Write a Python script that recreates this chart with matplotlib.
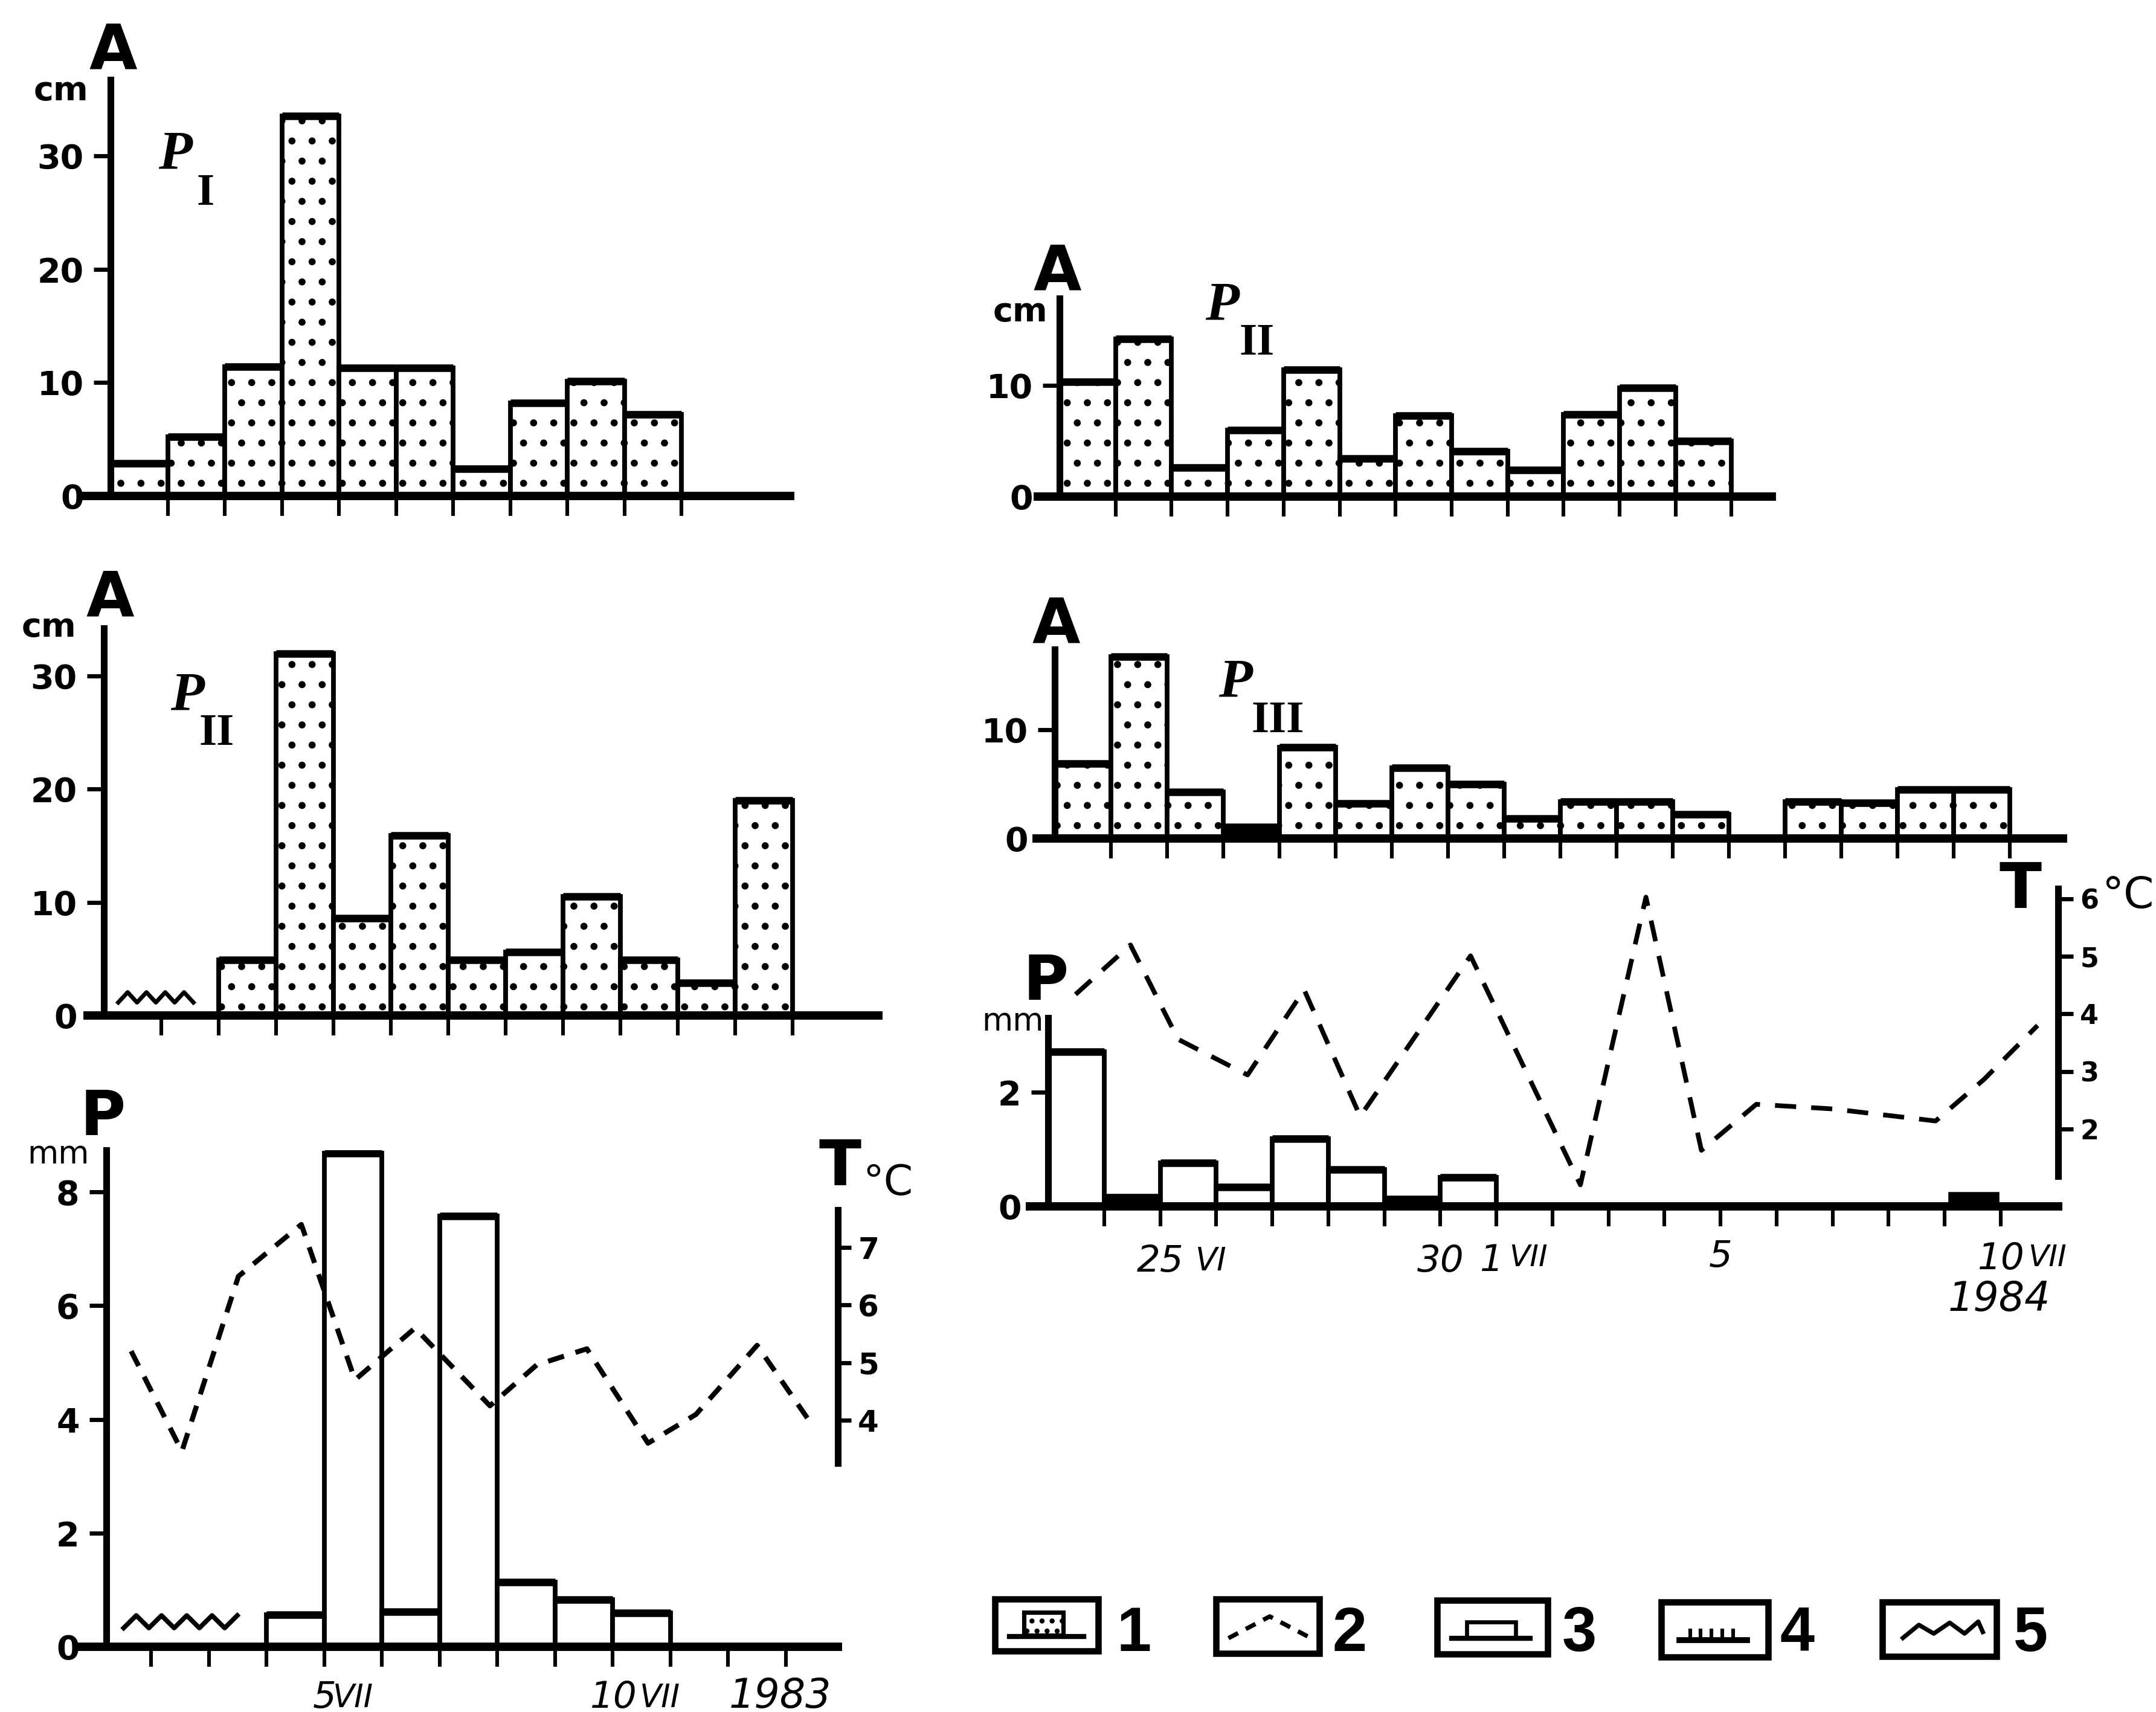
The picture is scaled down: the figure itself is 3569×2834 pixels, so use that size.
import matplotlib
matplotlib.use("Agg")
import matplotlib.pyplot as plt
from matplotlib.patches import Rectangle
import numpy as np

W, H, DPI = 3569, 2834, 200
plt.rcParams['font.family'] = ['DejaVu Sans']
plt.rcParams['hatch.linewidth'] = 1.8

# ---------------- data ----------------
# A, P_I (1983), snow cover per day slot
a_p1_slots = [0, 1, 2, 3, 4, 5, 6, 7, 8, 9]
a_p1 = [2.9, 5.2, 11.4, 33.5, 11.3, 11.3, 2.4, 8.2, 10.1, 7.2]

# A, P_II (1983)
a_p2_83_slots = [2, 3, 4, 5, 6, 7, 8, 9, 10, 11]
a_p2_83 = [4.9, 32.0, 8.6, 15.9, 4.9, 5.6, 10.5, 4.9, 2.9, 19.0]
a_p2_83_sym5 = (0.25, 1.56, 1.6)          # start, end, level of symbol 5

# P, T (1983), x = day of July
p83_days = [4, 5, 6, 7, 8, 9, 10]
p83 = [0.56, 8.68, 0.62, 7.58, 1.14, 0.83, 0.59]
p83_sym5 = (1.52, 3.49, 0.44)
t83_days = [1.65, 2.53, 3.51, 4.60, 5.53, 6.57, 7.87, 8.68, 9.55, 10.61, 11.44, 12.50, 13.48]
t83 = [5.20, 3.46, 6.50, 7.40, 4.70, 5.60, 4.25, 4.96, 5.24, 3.60, 4.10, 5.30, 3.88]
x83_ticks = [2, 3, 4, 5, 6, 7, 8, 9, 10, 11, 12, 13]

# A, P_II (1984), slot 0 = 23 VI
a_p2_84_slots = list(range(12))
a_p2_84 = [10.3, 14.2, 2.6, 6.0, 11.4, 3.4, 7.3, 4.1, 2.4, 7.4, 9.8, 5.0]

# A, P_III (1984)
a_p3_84_slots = [0, 1, 2, 3, 4, 5, 6, 7, 8, 9, 10, 11, 13, 14, 15, 16]
a_p3_84 = [6.9, 16.7, 4.3, 1.2, 8.4, 3.2, 6.5, 5.0, 1.85, 3.4, 3.4, 2.2, 3.4, 3.3, 4.5, 4.5]
a_p3_84_kind = [1, 1, 1, 4, 1, 1, 1, 1, 1, 1, 1, 1, 1, 1, 1, 1]

# P, T (1984), slot 0 = 23 VI
p84_slots = [0, 1, 2, 3, 4, 5, 6, 7, 16.1]
p84 = [2.71, 0.19, 0.76, 0.34, 1.18, 0.65, 0.16, 0.51, 0.22]
p84_width = [1, 1, 1, 1, 1, 1, 1, 1, 0.85]
p84_kind = [3, 4, 3, 3, 3, 3, 4, 3, 4]
t84_slots = [0.49, 1.47, 2.32, 3.56, 4.57, 5.57, 7.54, 9.50, 10.67, 11.66, 12.64, 14.00, 15.84, 16.70, 17.66]
t84 = [4.34, 5.20, 3.56, 2.94, 4.42, 2.22, 5.01, 1.03, 6.03, 1.63, 2.43, 2.35, 2.14, 2.86, 3.80]
x84_ticks = list(range(1, 18))

legend_numbers = ['1', '2', '3', '4', '5']

# ---------------- helpers ----------------
fig = plt.figure(figsize=(W / DPI, H / DPI), dpi=DPI)
fig.patch.set_facecolor('white')


def panel_ax(x0, xu, xlim, y0, yu, ylim):
    l = (x0 + xlim[0] * xu) / W
    w = (xlim[1] - xlim[0]) * xu / W
    b = 1 - (y0 - ylim[0] * yu) / H
    h = (ylim[1] - ylim[0]) * yu / H
    ax = fig.add_axes([l, b, w, h])
    ax.set_xlim(*xlim)
    ax.set_ylim(*ylim)
    ax.patch.set_visible(False)
    ax.spines['top'].set_visible(False)
    ax.spines['right'].set_visible(False)
    return ax


def style(ax, yaxis_x, ytop, yticks, xticks):
    ax.spines['left'].set_position(('data', yaxis_x))
    ax.spines['left'].set_bounds(0, ytop)
    ax.spines['left'].set_linewidth(4.0)
    ax.spines['bottom'].set_linewidth(5.0)
    ax.set_xticks(xticks)
    ax.set_xticklabels([])
    ax.tick_params(axis='x', length=12, width=2.2, direction='out')
    ax.set_yticks(yticks)
    ax.set_yticklabels([str(v) for v in yticks])
    ax.tick_params(axis='y', length=10, width=2.5, direction='out', labelsize=20, pad=6)
    for t in ax.get_yticklabels():
        t.set_fontweight('bold')


def stipple_bars(ax, xs, vals, kinds=None, widths=None):
    if widths is None:
        widths = [1] * len(xs)
    if kinds is None:
        kinds = [1] * len(xs)
    for x, v, k, w in zip(xs, vals, kinds, widths):
        if k == 1:
            ax.bar(x, v, width=w, align='edge', facecolor='white', edgecolor='black',
                   linewidth=2.8, hatch='.', zorder=2)
            ax.hlines(v, x, x + w, color='black', lw=4.5, zorder=3)
        elif k == 3:
            ax.bar(x, v, width=w, align='edge', facecolor='white', edgecolor='black',
                   linewidth=2.8, zorder=2)
            ax.hlines(v, x, x + w, color='black', lw=4.5, zorder=3)
        else:
            ax.bar(x, v, width=w, align='edge', facecolor='black', edgecolor='black',
                   linewidth=2.0, zorder=2)


def zigzag(ax, x0, x1, level, amp, n, lw=2.8):
    xs = np.linspace(x0, x1, n)
    ys = [level + (amp if i % 2 else -amp) for i in range(n)]
    ax.plot(xs, ys, color='black', lw=lw, solid_joinstyle='round', zorder=4)


def temp_axis(ax, tlo, thi, blo, bhi, ticks, length, labelsize):
    ax2 = ax.twinx()
    ax2.set_ylim(tlo, thi)
    for s in ['left', 'top', 'bottom']:
        ax2.spines[s].set_visible(False)
    ax2.spines['right'].set_bounds(blo, bhi)
    ax2.spines['right'].set_linewidth(4.0)
    ax2.set_yticks(ticks)
    ax2.set_yticklabels([str(v) for v in ticks])
    ax2.tick_params(axis='y', direction='out', length=length, width=2.5,
                    labelsize=labelsize, pad=4)
    for t in ax2.get_yticklabels():
        t.set_fontweight('bold')
    return ax2


def date_label(ax, d, s, dx, dy, size, ha='center'):
    ax.annotate(s, xy=(d, 0), xycoords='data', xytext=(dx, dy), textcoords='offset points',
                ha=ha, va='baseline', fontsize=size, style='italic', annotation_clip=False)


# ---------------- panel 1: A, P_I ----------------
ax1 = panel_ax(183, 94.5, (-0.48, 11.9), 821, 18.77, (0, 36.7))
style(ax1, 0, 36.7, [0, 10, 20, 30], list(range(1, 11)))
stipple_bars(ax1, a_p1_slots, a_p1)

# ---------------- panel 2: A, P_II 1983 ----------------
ax2 = panel_ax(172, 95.0, (-0.28, 13.5), 1681, 18.73, (0, 34.2))
style(ax2, 0, 34.2, [0, 10, 20, 30], list(range(1, 13)))
stipple_bars(ax2, a_p2_83_slots, a_p2_83)
zigzag(ax2, a_p2_83_sym5[0], a_p2_83_sym5[1], a_p2_83_sym5[2], 0.45, 9, lw=2.5)

# ---------------- panel 3: P, T 1983 ----------------
ax3 = panel_ax(59.5, 95.5, (0.77, 13.9), 2726, 94.1, (0, 8.74))
style(ax3, 1.22, 8.74, [0, 2, 4, 6, 8], x83_ticks)
stipple_bars(ax3, [d for d in p83_days], p83, kinds=[3] * len(p83))
zigzag(ax3, p83_sym5[0], p83_sym5[1], p83_sym5[2], 0.11, 10, lw=2.8)
ax3t = temp_axis(ax3, 0.064, 8.695, 3.25, 7.65, [4, 5, 6, 7], 8, 18)
ax3t.plot(t83_days, t83, color='black', lw=3.0, dashes=(3.3, 2.4), zorder=5)
date_label(ax3, 5, '5', 0, -36.4, 22)
date_label(ax3, 5, 'VII', 5, -36.0, 19, ha='left')
date_label(ax3, 10, '10', 0, -36.4, 22)
date_label(ax3, 10, 'VII', 16, -36.0, 19, ha='left')

# ---------------- panel 4: A, P_II 1984 ----------------
ax4 = panel_ax(1754, 92.7, (-0.39, 12.72), 822, 18.4, (0, 17.8))
style(ax4, 0, 17.8, [0, 10], list(range(1, 13)))
stipple_bars(ax4, a_p2_84_slots, a_p2_84)

# ---------------- panel 5: A, P_III 1984 ----------------
ax5 = panel_ax(1746, 93.0, (-0.32, 17.95), 1388, 18.0, (0, 17.4))
style(ax5, 0, 17.4, [0, 10], list(range(1, 18)))
stipple_bars(ax5, a_p3_84_slots, a_p3_84, kinds=a_p3_84_kind)

# ---------------- panel 6: P, T 1984 ----------------
ax6 = panel_ax(1735, 92.75, (-0.32, 18.03), 1997, 94.5, (0, 5.6))
style(ax6, 0, 3.3, [0, 2], x84_ticks)
stipple_bars(ax6, p84_slots, p84, kinds=p84_kind, widths=p84_width)
ax6t = temp_axis(ax6, 0.656, 6.212, 1.18, 6.18, [2, 3, 4, 5, 6], 9, 16)
ax6t.plot(t84_slots, t84, color='black', lw=2.8, dashes=(4.5, 3.2), zorder=5)
date_label(ax6, 2, '25', 0, -38.9, 22)
date_label(ax6, 2, 'VI', 21, -38.0, 19, ha='left')
date_label(ax6, 7, '30', 0, -38.9, 22)
date_label(ax6, 8, '1', -3, -38.5, 22)
date_label(ax6, 8, 'VII', 7.6, -35.5, 18, ha='left')
date_label(ax6, 12, '5', 0, -36.0, 22)
date_label(ax6, 17, '10', 0, -37.5, 22)
date_label(ax6, 17, 'VII', 16.5, -35.5, 18, ha='left')

# ---------------- overlay for labels and legend ----------------
ov = fig.add_axes([0, 0, 1, 1])
ov.set_xlim(0, W)
ov.set_ylim(H, 0)
ov.axis('off')
ov.patch.set_visible(False)


def txt(x, y, s, size, ha='center', weight='normal', family=None, style='normal'):
    kw = dict(ha=ha, va='baseline', fontsize=size, fontweight=weight, style=style)
    if family:
        kw['family'] = family
    ov.text(x, y, s, **kw)


BIG = 37
for (x, y, s) in [(187, 114, 'A'), (182, 1020, 'A'), (1750, 480, 'A'), (1748, 1065, 'A'),
                  (170, 1879, 'P'), (1731, 1655, 'P'), (1390, 1962, 'T'), (3345, 1503, 'T')]:
    txt(x, y, s, BIG, weight='heavy')

for (x, y, s) in [(101, 166, 'cm'), (81, 1054, 'cm'), (1689, 532, 'cm')]:
    txt(x, y, s, 20, weight='bold')
for (x, y, s) in [(96, 1926, 'mm'), (1677, 1706, 'mm')]:
    txt(x, y, s, 19)

txt(1428, 1978, '°C', 25, ha='left')
txt(3566, 1503, '°C', 26, ha='right')

serif = ['Liberation Serif', 'DejaVu Serif']
for (px, py, sx, sy, sub) in [(262, 280, 326, 339, 'I'), (282, 1176, 330, 1233, 'II'),
                              (1995, 530, 2052, 587, 'II'), (2017, 1154, 2072, 1212, 'III')]:
    txt(px, py, 'P', 33, ha='left', weight='bold', family=serif, style='italic')
    txt(sx, sy, sub, 27, ha='left', weight='bold', family=serif)

txt(1207, 2827, '1983', 24, ha='left', style='italic')
txt(3225, 2170, '1984', 24, ha='left', style='italic')

# legend
boxes = [(1647, 2647, 171, 86), (2013, 2647, 171, 90), (2379, 2649, 183, 89),
         (2750, 2652, 177, 91), (3116, 2652, 189, 90)]
num_x = [1877, 2234, 2614, 2975, 3361]
for (bx, by, bw, bh), nx, lab in zip(boxes, num_x, legend_numbers):
    ov.add_patch(Rectangle((bx, by), bw, bh, facecolor='white', edgecolor='black', lw=3.8))
    txt(nx, 2733, lab, 37, weight='bold', family=['Liberation Sans', 'DejaVu Sans'])

bx, by, bw, bh = boxes[0]
ov.add_patch(Rectangle((bx + 0.28 * bw, by + 0.25 * bh), 0.38 * bw, 0.45 * bh,
                       facecolor='white', edgecolor='black', lw=2.6, hatch='..'))
ov.plot([bx + 0.14 * bw, bx + 0.86 * bw], [by + 0.72 * bh] * 2, color='black', lw=3)

bx, by, bw, bh = boxes[1]
ov.plot([bx + 0.12 * bw, bx + 0.52 * bw, bx + 0.9 * bw],
        [by + 0.72 * bh, by + 0.32 * bh, by + 0.70 * bh], color='black', lw=2.6, dashes=(2.5, 2))

bx, by, bw, bh = boxes[2]
ov.add_patch(Rectangle((bx + 0.27 * bw, by + 0.40 * bh), 0.44 * bw, 0.30 * bh,
                       facecolor='white', edgecolor='black', lw=2.4))
ov.plot([bx + 0.13 * bw, bx + 0.84 * bw], [by + 0.71 * bh] * 2, color='black', lw=3)

bx, by, bw, bh = boxes[3]
ov.plot([bx + 0.17 * bw, bx + 0.80 * bw], [by + 0.69 * bh] * 2, color='black', lw=3.5)
for r in [0.27, 0.37, 0.47, 0.57, 0.67]:
    ov.plot([bx + r * bw] * 2, [by + 0.52 * bh, by + 0.69 * bh], color='black', lw=2.2)

bx, by, bw, bh = boxes[4]
zz_x = [0.18, 0.32, 0.45, 0.59, 0.72, 0.84, 0.88]
zz_y = [0.66, 0.42, 0.58, 0.38, 0.58, 0.36, 0.55]
ov.plot([bx + r * bw for r in zz_x], [by + r * bh for r in zz_y], color='black', lw=2.6)

fig.savefig('out.png', dpi=DPI, facecolor='white')
